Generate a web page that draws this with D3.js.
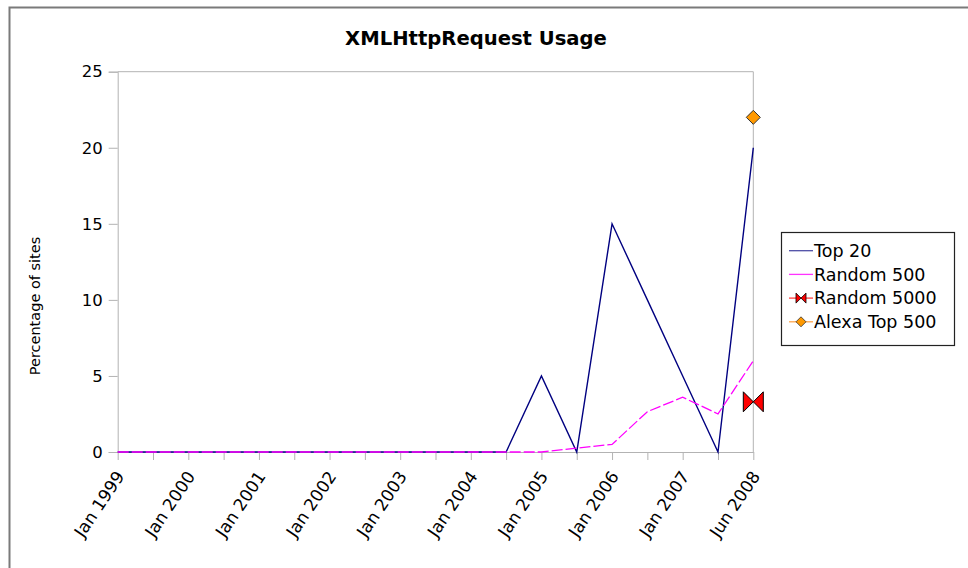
<!DOCTYPE html>
<html>
<head>
<meta charset="utf-8">
<script src="https://cdn.jsdelivr.net/npm/d3@7"></script>
<style>
  html, body { margin: 0; padding: 0; background: #fff; }
  svg { display: block; }
  text { font-family: "DejaVu Sans", "Liberation Sans", Arial, sans-serif; fill: #000; }
</style>
</head>
<body>
<svg id="chart" width="968" height="568"></svg>
<script>
// ---- data ----
const categories = [
  "Jan 1999","Jul 1999","Jan 2000","Jul 2000","Jan 2001","Jul 2001",
  "Jan 2002","Jul 2002","Jan 2003","Jul 2003","Jan 2004","Jul 2004",
  "Jan 2005","Jul 2005","Jan 2006","Jul 2006","Jan 2007","Jul 2007","Jun 2008"
];
const top20      = [0,0,0,0,0,0,0,0,0,0,0,0, 5, 0, 15, 10, 5, 0, 20];
const random500  = [0,0,0,0,0,0,0,0,0,0,0,0, 0, 0.25, 0.5, 2.65, 3.6, 2.5, 6];
const random5000 = [null,null,null,null,null,null,null,null,null,null,null,null,null,null,null,null,null,null, 3.3];
const alexaTop500= [null,null,null,null,null,null,null,null,null,null,null,null,null,null,null,null,null,null, 22];
const yTicks = [0,5,10,15,20,25];
const seriesNames = ["Top 20","Random 500","Random 5000","Alexa Top 500"];
const titleText = "XMLHttpRequest Usage";
const yLabel = "Percentage of sites";

// ---- layout ----
const svg = d3.select("#chart");
const L = 117.7, R = 753.3, T = 71.7, B = 452;

// outer border
svg.append("rect").attr("x", 9.5).attr("y", 7.5).attr("width", 1200).attr("height", 1200)
  .attr("fill", "none").attr("stroke", "#7a7a7a").attr("stroke-width", 2);

const x = d3.scalePoint().domain(categories).range([L, R]);
const y = d3.scaleLinear().domain([0, 25]).range([B, T]);

// plot frame (top and right)
svg.append("path").attr("d", `M${L},${T}H${R}V${B}`)
  .attr("fill", "none").attr("stroke", "#b3b3b3").attr("stroke-width", 1);

// y axis
const yAxis = svg.append("g").attr("transform", `translate(${L},0)`)
  .call(d3.axisLeft(y).tickValues(yTicks).tickSize(9).tickPadding(6).tickFormat(d3.format("d")));
yAxis.select(".domain").attr("stroke", "#b3b3b3");
yAxis.selectAll(".tick line").attr("stroke", "#b3b3b3");
yAxis.selectAll(".tick text").style("font-family", "DejaVu Sans, sans-serif").style("font-size", "16.5px").attr("fill", "#222");

// x axis
const xAxis = svg.append("g").attr("transform", `translate(0,${B})`)
  .call(d3.axisBottom(x).tickSize(8).tickSizeOuter(0).tickFormat((d, i) => i % 2 === 0 ? d : ""));
xAxis.select(".domain").attr("stroke", "#b3b3b3");
xAxis.selectAll(".tick line").attr("stroke", "#b3b3b3");
xAxis.selectAll(".tick text")
  .style("font-family", "DejaVu Sans, sans-serif").style("font-size", "17px").attr("fill", "#222")
  .attr("text-anchor", "end")
  .attr("transform", "translate(2,21) rotate(-56)")
  .attr("x", 0).attr("y", 0).attr("dy", "0.35em");

// title
svg.append("text").attr("x", 476).attr("y", 45).attr("text-anchor", "middle")
  .style("font-weight", "bold").style("font-size", "19.6px").text(titleText);

// y label
svg.append("text").attr("transform", "translate(40,306) rotate(-90)")
  .attr("text-anchor", "middle").style("font-size", "14.5px").attr("fill", "#222").text(yLabel);

// lines
function linePath(vals) {
  return d3.line().defined(d => d.v != null).x(d => x(d.c)).y(d => y(d.v))(vals.map((v, i) => ({c: categories[i], v})));
}
svg.append("path").attr("d", linePath(top20)).attr("fill", "none")
  .attr("stroke", "#000080").attr("stroke-width", 1.4);
svg.append("path").attr("d", linePath(random500)).attr("fill", "none")
  .attr("stroke", "#ff00ff").attr("stroke-width", 1.3).attr("stroke-dasharray", "11,3");

function bowtie(s) { return `M${-s},${-s}L0,0L${-s},${s}ZM${s},${-s}L0,0L${s},${s}Z`; }
function diamond(s) { return `M0,${-s}L${s},0L0,${s}L${-s},0Z`; }

random5000.forEach((v, i) => {
  if (v == null) return;
  svg.append("path").attr("d", bowtie(10)).attr("transform", `translate(${x(categories[i])},${y(v)})`)
    .attr("fill", "#ff0000").attr("stroke", "#000").attr("stroke-width", 1);
});
alexaTop500.forEach((v, i) => {
  if (v == null) return;
  svg.append("path").attr("d", diamond(7)).attr("transform", `translate(${x(categories[i])},${y(v)})`)
    .attr("fill", "#ff9900").attr("stroke", "#333").attr("stroke-width", 1);
});

// legend
const lg = svg.append("g");
lg.append("rect").attr("x", 781.5).attr("y", 232.5).attr("width", 173).attr("height", 113)
  .attr("fill", "#fff").attr("stroke", "#222").attr("stroke-width", 1.2);
const legendColors = ["#4d4da6", "#ff33ff", "#ff4040", "#ffa64d"];
seriesNames.forEach((name, i) => {
  const cy = 250.7 + i * 23.7;
  lg.append("line").attr("x1", 789).attr("x2", 813).attr("y1", cy).attr("y2", cy)
    .attr("stroke", legendColors[i]).attr("stroke-width", 1.3);
  if (i === 2) lg.append("path").attr("d", bowtie(5)).attr("transform", `translate(801,${cy})`)
    .attr("fill", "#ff0000").attr("stroke", "#000").attr("stroke-width", 0.8);
  if (i === 3) lg.append("path").attr("d", diamond(5)).attr("transform", `translate(801,${cy})`)
    .attr("fill", "#ff9900").attr("stroke", "#333").attr("stroke-width", 0.8);
  lg.append("text").attr("x", 814).attr("y", cy).attr("dy", "0.36em")
    .style("font-size", "17.5px").attr("fill", "#222").text(name);
});
</script>
</body>
</html>
